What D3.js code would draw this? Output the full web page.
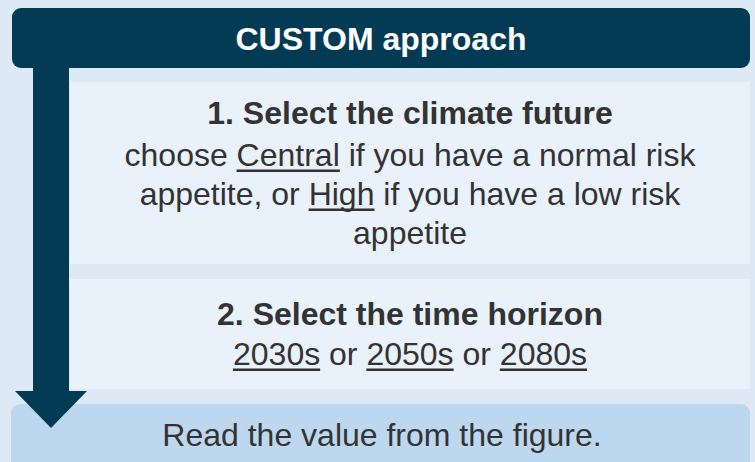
<!DOCTYPE html>
<html><head><meta charset="utf-8">
<script src="https://cdn.jsdelivr.net/npm/d3@7"></script>
<style>html,body{margin:0;padding:0;background:#dde9f5;}svg{display:block;}</style>
</head><body>
<script>
// Content (text segments: [text, underlined?])
const title = "CUSTOM approach";
const step1Heading = "1. Select the climate future";
const step1Lines = [
  [["choose ", false], ["Central", true], [" if you have a normal risk", false]],
  [["appetite, or ", false], ["High", true], [" if you have a low risk", false]],
  [["appetite", false]]
];
const step2Heading = "2. Select the time horizon";
const step2Lines = [
  [["2030s", true], [" or ", false], ["2050s", true], [" or ", false], ["2080s", true]]
];
const finalText = "Read the value from the figure.";

const W = 755, H = 462;
const C = {bg:"#dde9f5", header:"#033b55", panel:"#e9f1fa", bottom:"#bdd7ee", text:"#333333"};
const FONT = "'Liberation Sans', Arial, sans-serif";

const svg = d3.select("body").append("svg").attr("width", W).attr("height", H);
svg.append("rect").attr("width", W).attr("height", H).attr("fill", C.bg);

// Panels
svg.append("rect").attr("x", 70).attr("y", 82).attr("width", 680).attr("height", 182).attr("fill", C.panel);
svg.append("rect").attr("x", 70).attr("y", 279).attr("width", 680).attr("height", 110).attr("fill", C.panel);

// Bottom box
svg.append("rect").attr("x", 11).attr("y", 404).attr("width", 739).attr("height", 80).attr("rx", 9).attr("fill", C.bottom);

// Header
svg.append("rect").attr("x", 12).attr("y", 8).attr("width", 738).attr("height", 60).attr("rx", 9).attr("fill", C.header);

// Arrow
svg.append("path")
  .attr("d", d3.line()([[33,66],[69,66],[69,391],[87,391],[51,428],[15,391],[33,391]]) + "Z")
  .attr("fill", C.header);

function lines(rows, cx, y0, dy, weight, color) {
  rows.forEach((segs, i) => {
    const y = y0 + i*dy;
    const t = svg.append("text").attr("x", cx).attr("y", y)
      .attr("text-anchor", "middle").attr("font-family", FONT)
      .attr("font-size", 32).attr("font-weight", weight).attr("fill", color)
      .style("white-space", "pre");
    const spans = [];
    segs.forEach(([s, u]) => {
      const sp = t.append("tspan").text(s);
      if (u) spans.push(sp.node());
    });
    spans.forEach(n => {
      const x0 = n.getStartPositionOfChar(0).x;
      const w = n.getComputedTextLength();
      svg.append("rect").attr("x", x0).attr("y", y + 3.5).attr("width", w).attr("height", 2.5).attr("fill", color);
    });
  });
}

lines([[[title,false]]], 381, 50, 0, "bold", "#ffffff");
lines([[[step1Heading,false]]], 410, 124, 0, "bold", C.text);
lines(step1Lines, 410, 166, 39, "normal", C.text);
lines([[[step2Heading,false]]], 410, 325, 0, "bold", C.text);
lines(step2Lines, 410, 365, 0, "normal", C.text);
lines([[[finalText,false]]], 382, 446, 0, "normal", C.text);
</script>
</body></html>
